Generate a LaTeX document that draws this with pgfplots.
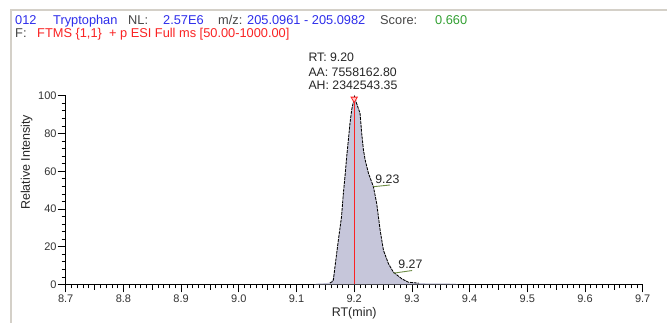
\documentclass[border=0pt]{standalone}
\usepackage{fontspec}
\setmainfont{Liberation Sans}
\usepackage{pgfplots}
\pgfplotsset{compat=1.18}
\definecolor{hdrblue}{RGB}{45,45,235}
\definecolor{hdrgray}{RGB}{70,70,70}
\definecolor{hdrgreen}{RGB}{50,160,50}
\definecolor{hdrred}{RGB}{250,35,35}
\definecolor{bordergray}{RGB}{212,208,200}
\definecolor{peakfill}{RGB}{198,198,218}
\definecolor{annogreen}{RGB}{110,140,70}
\pgfplotstableread{
t v
9.130 0
9.135 0.5
9.150 0.7
9.156 0.9
9.160 1.5
9.163 3.0
9.1666 9.2
9.1725 23.4
9.178 35.8
9.1812 48.2
9.184 57.1
9.187 67.7
9.1899 76.6
9.1927 85.5
9.1957 92.6
9.2005 99.5
9.2040 96
9.2101 90.8
9.213 80.1
9.216 71.3
9.219 66
9.2247 58.9
9.2333 51.8
9.239 42.9
9.245 28.7
9.2507 18.1
9.2594 11
9.268 6.5
9.2826 3.0
9.294 1.2
9.3116 0.7
9.340 0.6
9.375 0.5
9.380 0
}\peakdata
\pgfplotstableread{
t v
9.158 0.8
9.162 1.5
9.164 2.5
9.1666 9.2
9.1725 23.4
9.178 35.8
9.1812 48.2
9.184 57.1
9.187 67.7
9.1899 76.6
9.1927 85.5
9.1957 92.6
9.2005 99.5
9.2040 96
9.2101 90.8
9.213 80.1
9.216 71.3
9.219 66
9.2247 58.9
9.2333 51.8
9.239 42.9
9.245 28.7
9.2507 18.1
9.2594 11
9.268 6.5
9.2826 3.0
9.294 1.2
9.3116 0.7
}\outline
\begin{document}
\begin{tikzpicture}[x=1pt,y=1pt]
\useasboundingbox (0,0) rectangle (667,323);
\fill[white] (0,0) rectangle (667,323);
\draw[bordergray, line width=2pt] (11,0) -- (11,313) -- (667,313);
\begin{axis}[
  at={(65.7pt,38.5pt)}, anchor=south west,
  scale only axis, width=577pt, height=188.8pt,
  xmin=8.7, xmax=9.7, ymin=0, ymax=100,
  axis lines*=left, axis line style={-, line width=0.9pt},
  clip=false,
  tick align=outside,
  major tick length=8pt, minor tick length=4pt,
  every tick/.style={black, line width=0.7pt},
  every minor tick/.style={black, line width=0.7pt},
  xtick={8.7,8.8,8.9,9.0,9.1,9.2,9.3,9.4,9.5,9.6,9.7},
  minor xtick={8.71,8.72,...,9.695},
  ytick={0,20,40,60,80,100},
  minor ytick={4,8,12,16,24,28,32,36,44,48,52,56,64,68,72,76,84,88,92,96},
  extra x ticks={8.75,8.85,8.95,9.05,9.15,9.25,9.35,9.45,9.55,9.65},
  extra x tick labels={},
  extra x tick style={major tick length=5.5pt},
  x tick label style={/pgf/number format/fixed, /pgf/number format/fixed zerofill, /pgf/number format/precision=1},
  /pgf/number format/assume math mode=true,
  ticklabel style={font=\fontsize{11}{12}\selectfont, text=black!80},
  yticklabel style={anchor=east, inner sep=1pt},
  xticklabel style={anchor=north, inner sep=1pt, yshift=-1pt},
  xlabel={RT(min)}, ylabel={Relative Intensity},
  label style={font=\fontsize{12.5}{14}\selectfont, text=black!85},
  x label style={at={(axis description cs:0.5,-0.150)}, anchor=center},
  y label style={at={(axis description cs:-0.0676,0.647)}, anchor=center},
]
\addplot[draw=none, fill=peakfill] table[x=t,y=v] {\peakdata} \closedcycle;
\addplot[black, line width=0.85pt, dash pattern=on 3pt off 0.9pt] table[x=t,y=v] {\outline};
\addplot[hdrred, line width=1pt] coordinates {(9.2,0) (9.2,99)};
\addplot[only marks, mark=triangle*, mark size=3.6pt, mark options={rotate=180, draw=hdrred, fill=red!20, line width=0.8pt}] coordinates {(9.2,98.3)};
\addplot[annogreen, line width=0.9pt] coordinates {(9.2334,51.8) (9.262,52.7)};
\addplot[annogreen, line width=0.9pt] coordinates {(9.2684,6.0) (9.3003,7.4)};
\node[anchor=base west, inner sep=0pt, font=\fontsize{12.3}{14}\selectfont, text=black!85] at (axis cs:9.2364,53.5) {9.23};
\node[anchor=base west, inner sep=0pt, font=\fontsize{12.3}{14}\selectfont, text=black!85] at (axis cs:9.2763,8.25) {9.27};
\end{axis}
% header
\begin{scope}[every node/.style={anchor=base west, inner sep=0pt, font=\fontsize{12.8}{14}\selectfont}]
\node[text=hdrblue] at (15,298) {012};
\node[text=hdrblue] at (53,298) {Tryptophan};
\node[text=hdrgray] at (128,298) {NL:};
\node[text=hdrblue] at (163,298) {2.57E6};
\node[text=hdrgray] at (218,298) {m/z:};
\node[text=hdrblue] at (247,298) {205.0961 - 205.0982};
\node[text=hdrgray] at (380,298) {Score:};
\node[text=hdrgreen] at (435,298) {0.660};
\node[text=hdrgray] at (15,285.5) {F:};
\node[text=hdrred] at (37,285.5) {FTMS \{1,1\}\ \ + p ESI Full ms [50.00-1000.00]};
\end{scope}
\begin{scope}[every node/.style={anchor=base west, inner sep=0pt, font=\fontsize{12.3}{14}\selectfont, text=black!85}]
\node at (308.3,261.3) {RT: 9.20};
\node at (308.3,246.3) {AA: 7558162.80};
\node at (308.3,233) {AH: 2342543.35};
\end{scope}
\end{tikzpicture}
\end{document}
